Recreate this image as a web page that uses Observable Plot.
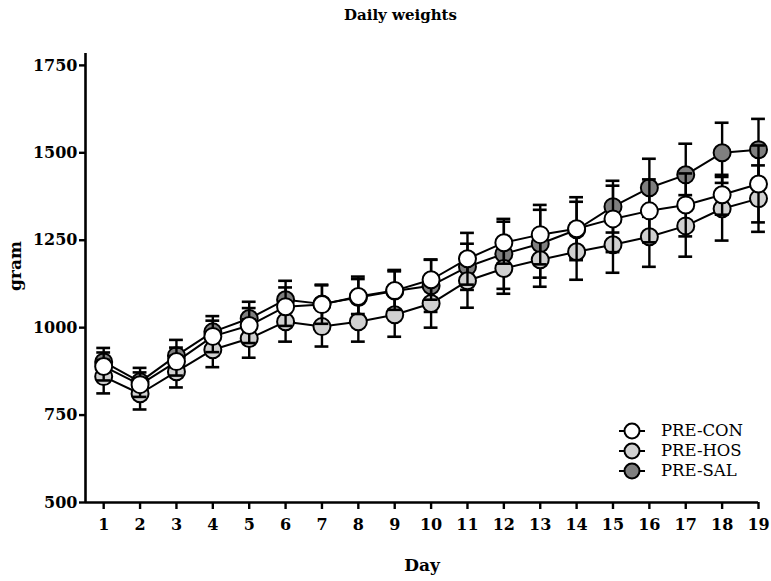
<!DOCTYPE html>
<html><head><meta charset="utf-8">
<script src="https://cdn.jsdelivr.net/npm/d3@7"></script>
<script src="https://cdn.jsdelivr.net/npm/@observablehq/plot@0.6"></script>
<style>
body{margin:0;background:#fff;}
#wrap{position:relative;width:771px;height:581px;font-family:"DejaVu Serif",serif;}
#title{height:30px;padding-top:6px;box-sizing:border-box;text-align:center;font-weight:bold;font-size:15px;padding-left:30px;}
#legend{position:absolute;left:616px;top:421px;font-size:16.5px;line-height:20px;}
#legend .row{display:flex;align-items:center;height:20px;}
#legend svg{margin-right:13px;}
</style></head><body>
<div id="wrap"><div id="title">Daily weights</div><div id="chart"></div><div id="legend"></div></div>
<script>
const days = [1,2,3,4,5,6,7,8,9,10,11,12,13,14,15,16,17,18,19];
const seriesNames = ["PRE-CON","PRE-HOS","PRE-SAL"];
const seriesFills = ["#ffffff","#d0d0d0","#7f7f7f"];
const conMean = [889,837,903,975,1006,1060,1066,1089,1106,1137,1197,1243,1266,1283,1311,1334,1351,1380,1411];
const conErr  = [40,35,40,45,50,55,55,50,55,57,74,60,85,90,95,90,90,57,110];
const hosMean = [860,811,874,937,969,1017,1003,1017,1037,1069,1134,1169,1194,1217,1237,1260,1291,1340,1369];
const hosErr  = [48,45,45,50,55,57,57,57,63,69,77,72,77,80,80,86,88,91,95];
const salMean = [902,845,920,988,1026,1080,1068,1086,1105,1120,1174,1211,1240,1280,1346,1400,1437,1500,1509];
const salErr  = [40,40,45,45,48,54,55,60,60,75,66,100,97,80,74,83,89,86,88];
const yTicks = [500,750,1000,1250,1500,1750];

const means = [conMean, hosMean, salMean];
const errs = [conErr, hosErr, salErr];
// draw order: SAL, HOS, CON (CON on top)
const order = [2,1,0];
const marks = [];
const capHalf = 0.19;
for (const s of order) {
  const data = days.map((d,i) => ({day:d, v:means[s][i], e:errs[s][i]}));
  marks.push(Plot.ruleX(data, {x:"day", y1:d=>d.v-d.e, y2:d=>d.v+d.e, stroke:"#000", strokeWidth:2.4}));
  marks.push(Plot.ruleY(data, {y:d=>d.v+d.e, x1:d=>d.day-capHalf, x2:d=>d.day+capHalf, stroke:"#000", strokeWidth:2.6}));
  marks.push(Plot.ruleY(data, {y:d=>d.v-d.e, x1:d=>d.day-capHalf, x2:d=>d.day+capHalf, stroke:"#000", strokeWidth:2.6}));
  marks.push(Plot.line(data, {x:"day", y:"v", stroke:"#000", strokeWidth:2}));
  marks.push(Plot.dot(data, {x:"day", y:"v", r:8.5, fill:seriesFills[s], stroke:"#000", strokeWidth:2}));
}

const chart = Plot.plot({
  width: 771,
  height: 551,
  marginLeft: 85,
  marginRight: 13,
  marginTop: 23,
  marginBottom: 79,
  style: {fontFamily:"DejaVu Serif", fontSize:"16px", fontWeight:"bold", color:"#000", background:"#fff"},
  x: {domain:[0.5,19], axis:null},
  y: {domain:[500,1784], axis:null},
  marks: [
    Plot.axisX({ticks: days, tickSize:7, tickPadding:9, tickFormat:d=>String(d), label:null, strokeWidth:2.4, fontSize:16, fontWeight:"bold"}),
    Plot.axisY({ticks: yTicks, tickSize:6, tickPadding:2, tickFormat:d=>String(d), label:null, strokeWidth:2.4, fontSize:16, fontWeight:"bold"}),
    Plot.ruleX([0.5], {y1:500, y2:1784, stroke:"#000", strokeWidth:2.6}),
    Plot.ruleY([500], {x1:0.5, x2:19, stroke:"#000", strokeWidth:2.6}),
    ...marks,
    Plot.text(["gram"], {frameAnchor:"left", dx:-70, dy:-12, rotate:-90, textAnchor:"middle", fontSize:17, fontWeight:"bold"}),
    Plot.text(["Day"], {frameAnchor:"bottom", dy:68, fontSize:17, fontWeight:"bold"})
  ]
});
document.getElementById("chart").appendChild(chart);

const legend = document.getElementById("legend");
seriesNames.forEach((name, i) => {
  const row = document.createElement("div");
  row.className = "row";
  row.innerHTML = `<svg width="32" height="20"><line x1="3" x2="29" y1="10" y2="10" stroke="#000" stroke-width="2"/><circle cx="16" cy="10" r="7.5" fill="${seriesFills[i]}" stroke="#000" stroke-width="2"/></svg><span>${name}</span>`;
  legend.appendChild(row);
});
</script>
</body></html>
